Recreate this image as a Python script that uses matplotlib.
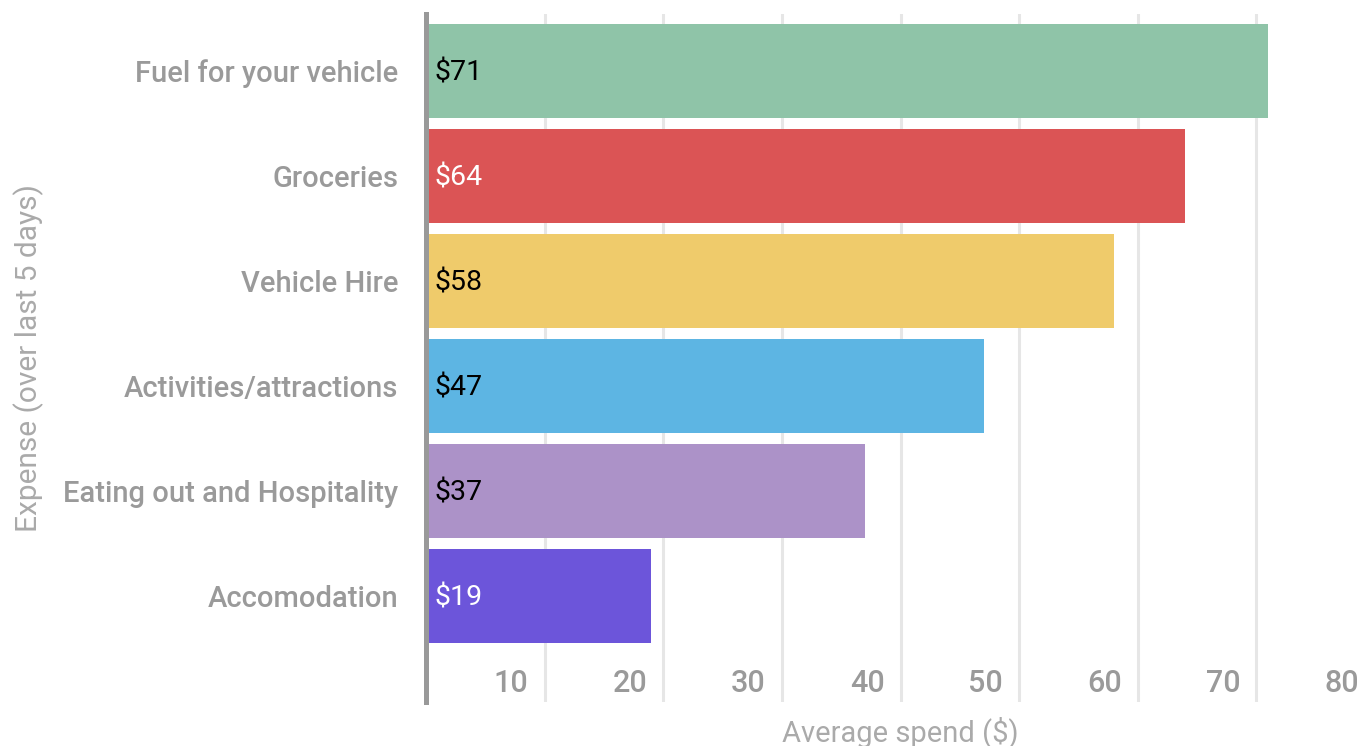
import matplotlib
matplotlib.use("Agg")
import matplotlib.pyplot as plt
from matplotlib.transforms import ScaledTranslation

categories = ["Fuel for your vehicle", "Groceries", "Vehicle Hire",
              "Activities/attractions", "Eating out and Hospitality", "Accomodation"]
spend = [71, 64, 58, 47, 37, 19]
bar_colors = ["#8fc4a8", "#db5455", "#efcb6b", "#5db5e3", "#ac92c8", "#6c55da"]
label_colors = ["black", "white", "black", "black", "black", "white"]
x_ticks = [10, 20, 30, 40, 50, 60, 70, 80]

plt.rcParams["font.family"] = ["Roboto", "DejaVu Sans"]

fig = plt.figure(figsize=(13.64, 7.46), dpi=100)
W, H = 1364, 746
left, right, top, bottom = 426, 1375, 14, 702
ax = fig.add_axes([left / W, 1 - bottom / H, (right - left) / W, (bottom - top) / H])

y = list(range(len(categories)))
ax.barh(y, spend, height=0.9, color=bar_colors, zorder=2)
ax.set_ylim(6.01, -0.543)
ax.set_xlim(0, 80)

# value labels just inside the left end of each bar
for i, v in enumerate(spend):
    ax.text(0, i, f"${v}", color=label_colors[i], fontsize=20.5, va="center", ha="left",
            transform=ax.transData + ScaledTranslation(8 / 100, -2 / 100, fig.dpi_scale_trans),
            zorder=3)

ax.set_yticks(y)
ax.set_yticklabels(categories, fontsize=21, color="#9a9a9a", fontweight=500)
ax.tick_params(axis="y", length=0, pad=20)

# x tick labels sit inside the plot, left of their gridline
ax.set_xticks(x_ticks)
ax.set_xticklabels([str(t) for t in x_ticks], fontsize=22, color="#9a9a9a", fontweight=500)
ax.tick_params(axis="x", length=0, pad=-24)
off = ScaledTranslation(-16 / 100, 0, fig.dpi_scale_trans)
for lbl in ax.get_xticklabels():
    lbl.set_ha("right")
    lbl.set_transform(lbl.get_transform() + off)

ax.grid(axis="x", color="#e6e6e6", linewidth=2.2, zorder=0)
for s in ["top", "right", "bottom"]:
    ax.spines[s].set_visible(False)
ax.spines["left"].set_color("#999999")
ax.spines["left"].set_linewidth(3.6)
ax.spines["left"].set_zorder(4)

ax.set_xlabel("Average spend ($)", fontsize=21, color="#aaaaaa", labelpad=10)
ax.set_ylabel("Expense (over last 5 days)", fontsize=21.5, color="#aaaaaa")
ax.yaxis.set_label_coords(-(left - 44) / (right - left), 0.5)

fig.savefig("out.png", dpi=100)
